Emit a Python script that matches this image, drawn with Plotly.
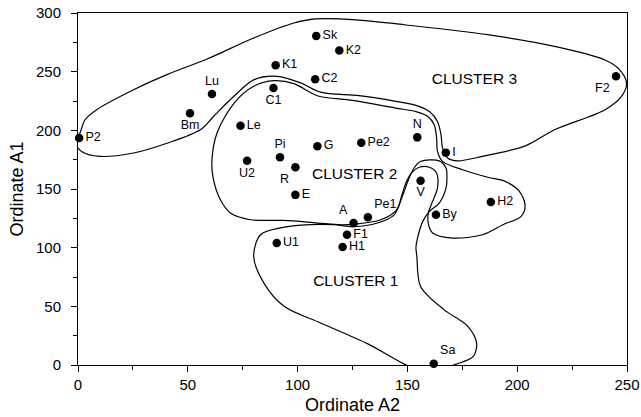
import plotly.graph_objects as go

# ---- point data ----
labels = ["P2", "Bm", "Lu", "K1", "C1", "Le", "Pi", "U2", "R", "E",
          "Sk", "C2", "G", "K2", "F2", "N", "I", "Pe2", "V", "H2",
          "Pe1", "A", "By", "F1", "H1", "Sa", "U1"]
a2 = [0.5, 51, 61, 90, 89, 74, 92, 77, 99, 99,
      108.5, 108, 109, 119, 245, 154.5, 167.5, 129, 156, 188,
      132, 125.5, 163, 122.5, 120.5, 162, 90.5]
a1 = [193.5, 214.5, 231, 255.5, 236, 204, 177, 174, 168.5, 145,
      280.5, 243.5, 186.5, 268, 246, 194, 181, 189.5, 157, 139,
      126, 121, 128, 111, 100.5, 1, 104]
label_pos = ["middle right", "bottom center", "top center", "middle right", "bottom center",
             "middle right", "top center", "bottom center", "bottom left", "middle right",
             "middle right", "middle right", "middle right", "middle right", "bottom left",
             "top center", "middle right", "middle right", "bottom center", "middle right",
             "top right", "top left", "middle right", "middle right", "middle right",
             "top right", "middle right"]

# ---- cluster outlines (hand-drawn boundaries) ----
c3_x = [-1.5, 0.9, 3.2, 8.5, 25.3, 40.5, 58.8, 80, 98.3, 108, 128, 148.6, 186.6, 217, 240,
        246.5, 249.8, 247.5, 240, 217, 204, 184.2, 172.8, 168.3, 166, 165.3, 163.7, 160,
        153.9, 144.7, 128, 110.5, 101.4, 90.7, 80, 71, 61.8, 55.7, 40.5, 25.3, 10, 2, -1.5]
c3_y = [190, 197.7, 209, 217.6, 234.6, 247.5, 260.8, 278.7, 291.5, 295, 294, 290, 281.5, 271.6, 260,
        252, 240, 229, 217.6, 200.5, 187, 177.8, 174, 176.4, 185, 196.3, 207.6, 216,
        221.3, 224.7, 229.5, 232.5, 240.4, 246, 243, 229, 212, 200.5, 189, 180.7, 177.8, 181.5, 190]

c2_x = [64.8, 61.5, 61, 63.3, 71, 80, 89.2, 98.3, 109, 125, 144.7, 153.9, 159.2, 162.2,
        163.3, 163.7, 166, 175.2, 186.6, 194.5, 201, 203.6, 201.8, 193.5, 184.2, 170.6,
        161.5, 159.5, 159.5, 161.5, 163.7, 163.3, 160, 155.4, 152, 149.5, 147.5, 145,
        137.9, 125.7, 119.6, 109, 93.7, 78.5, 69.4, 64.8]
c2_y = [141, 160, 175, 197.7, 223, 237.5, 242.3, 239.8, 229.5, 225.5, 219, 216, 212, 204.8,
        193.5, 182, 173.5, 166.4, 160, 156.5, 148, 136, 126.7, 119.6, 111, 108.2,
        112.5, 121, 129.5, 139.5, 150.9, 163.6, 168.5, 168.5, 164, 156, 145, 132,
        123.8, 120, 119.5, 121, 123.2, 123.8, 129.5, 141]

c1_x = [152, 132, 110.5, 93.8, 84.6, 80, 83.1, 92.2, 105.9, 116.6, 125.7, 136.3, 144,
        147.7, 150.3, 153, 156, 164.5, 167.6, 168, 167.6, 164.5, 160, 157, 154.6, 153.9,
        154.3, 156, 166.8, 177.5, 181.5, 180, 172, 166, 160, 152]
c1_y = [-2, 18, 35.8, 50, 70, 92.6, 111, 116.8, 119.6, 119.6, 118, 121, 128,
        143.7, 157, 167.9, 173.5, 174, 167.9, 160, 150.9, 138, 131, 122.4, 108.2, 100,
        92.6, 67, 47, 33, 18.8, 7.3, 0.5, -3, -4, -2]

cluster_names = ["CLUSTER 1", "CLUSTER 2", "CLUSTER 3"]
cluster_lx = [126.5, 126, 180.5]
cluster_ly = [71, 161.5, 243]

FONT = "Liberation Sans, Arial, Helvetica, sans-serif"

fig = go.Figure()
for xs, ys in [(c3_x, c3_y), (c2_x, c2_y), (c1_x, c1_y)]:
    fig.add_trace(go.Scatter(x=xs, y=ys, mode="lines",
                             line=dict(color="black", width=1.2, shape="spline", smoothing=0.9),
                             hoverinfo="skip", showlegend=False))

fig.add_trace(go.Scatter(x=a2, y=a1, mode="markers+text", text=labels,
                         textposition=label_pos,
                         textfont=dict(family=FONT, size=12.5, color="black"),
                         marker=dict(color="black", size=8.5),
                         showlegend=False, cliponaxis=False))

fig.add_trace(go.Scatter(x=cluster_lx, y=cluster_ly, mode="text", text=cluster_names,
                         textposition="middle center",
                         textfont=dict(family=FONT, size=15.5, color="black"),
                         showlegend=False))

fig.update_layout(
    width=641, height=417,
    margin=dict(l=78, r=14, t=13, b=52),
    paper_bgcolor="white", plot_bgcolor="white",
    font=dict(family=FONT, color="black"),
)
fig.update_xaxes(range=[0, 250], tickvals=[0, 50, 100, 150, 200, 250], automargin=False,
                 ticks="outside", ticklen=6, tickcolor="black",
                 minor=dict(tickvals=[25, 75, 125, 175, 225], ticks="outside", ticklen=4, tickcolor="black"),
                 showline=True, linecolor="black", linewidth=1, mirror=True,
                 showgrid=False, zeroline=False,
                 tickfont=dict(size=15), ticklabelstandoff=0,
                 title=dict(text="Ordinate A2", font=dict(size=18), standoff=6))
fig.update_yaxes(range=[0, 300], tickvals=[0, 50, 100, 150, 200, 250, 300], automargin=False,
                 ticks="outside", ticklen=6, tickcolor="black",
                 minor=dict(tickvals=[25, 75, 125, 175, 225, 275], ticks="outside", ticklen=4, tickcolor="black"),
                 showline=True, linecolor="black", linewidth=1, mirror=True,
                 showgrid=False, zeroline=False,
                 tickfont=dict(size=15), ticklabelstandoff=7,
                 title=dict(text="Ordinate A1", font=dict(size=18), standoff=7))

fig.write_html("out.html",
               config={"displayModeBar": False},
               post_script="document.body.style.margin='0';document.body.style.overflow='hidden';")
